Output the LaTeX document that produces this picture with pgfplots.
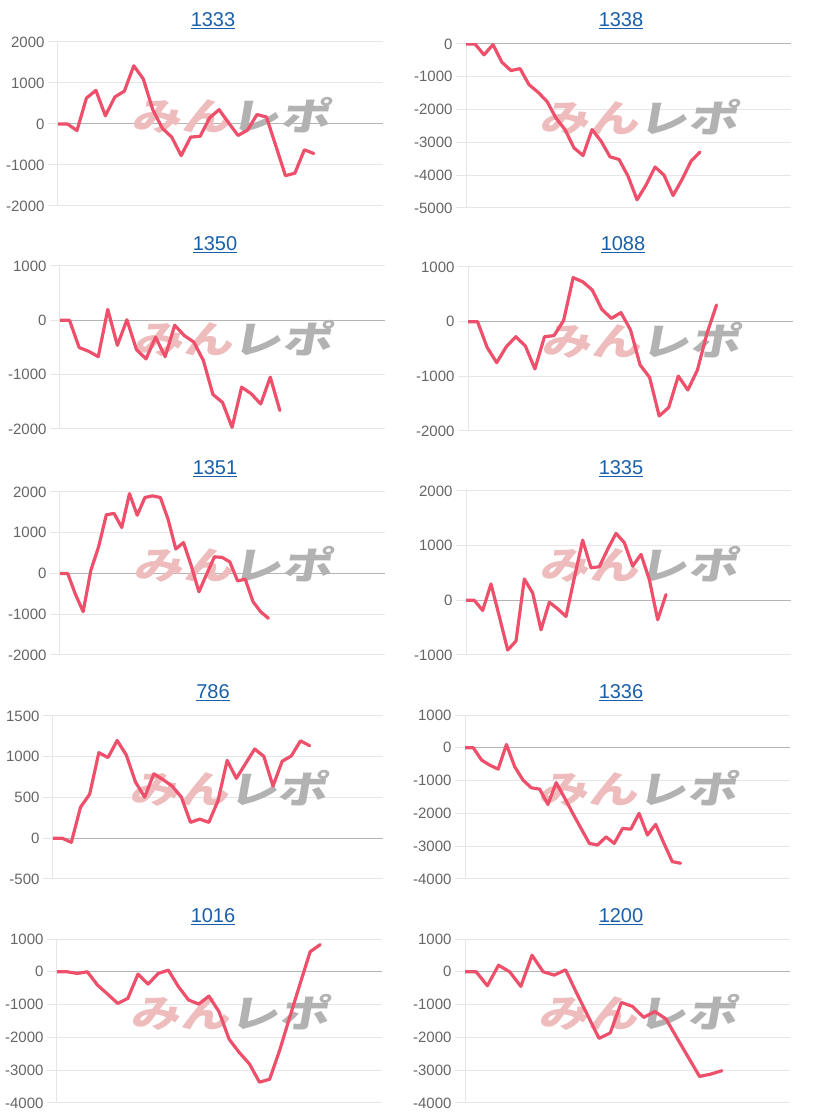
\documentclass[border=0pt]{standalone}
\usepackage{fontspec}
\setmainfont{Liberation Sans}
\newfontfamily\wmfont{Noto Sans CJK JP}
\usepackage{pgfplots}
\pgfplotsset{compat=1.18}
\definecolor{linec}{RGB}{238,80,108}
\definecolor{gridc}{RGB}{230,230,230}
\definecolor{zeroc}{RGB}{180,180,180}
\definecolor{tickc}{RGB}{102,102,102}
\definecolor{titlec}{RGB}{26,95,170}
\definecolor{wmpink}{RGB}{238,188,188}
\definecolor{wmgray}{RGB}{178,178,178}
\pgfplotsset{
  panel/.style={
    anchor=south west, scale only axis,
    axis x line=none, axis y line*=left,
    y axis line style={-, draw=gridc, line width=1pt},
    xmin=0, xtick=\empty,
    ymajorgrids, grid style={draw=gridc, line width=1pt},
    tick align=outside, major tick length=10pt,
    ytick style={draw=gridc, line width=1pt},
    yticklabel style={font=\fontsize{15}{15}\selectfont, text=tickc},
    /pgf/number format/assume math mode=true,
    /pgf/number format/1000 sep={},
    extra y ticks={0}, extra y tick labels={},
    extra y tick style={grid style={draw=zeroc, line width=1pt}},
  },
  serie/.style={draw=linec, line width=3.2pt, line join=round, line cap=round, mark=none},
}
\newcommand\wm{\node[anchor=center, inner sep=0pt, xslant=0.18, xscale=1.3, transform shape] at (rel axis cs:0.54,0.555) {\wmfont\bfseries\fontsize{38}{38}\selectfont\color{wmpink}みん\color{wmgray}レポ};}
\newcommand\ttl[3]{\node[anchor=base, text=titlec, font=\fontsize{20}{20}\selectfont, inner sep=0pt] at (#1,#2) {\underline{#3}};}
\begin{document}
\begin{tikzpicture}[x=1pt,y=1pt]
\path[use as bounding box, fill=white] (0,0) rectangle (816,1120);
% titles
\ttl{213}{1093}{1333}
\ttl{621}{1093}{1338}
\ttl{215}{869}{1350}
\ttl{623}{869}{1088}
\ttl{215}{645}{1351}
\ttl{621}{645}{1335}
\ttl{213}{421}{786}
\ttl{621}{421}{1336}
\ttl{213}{197}{1016}
\ttl{621}{197}{1200}

% 1333
\begin{axis}[panel, at={(58pt,914pt)}, width=325pt, height=164pt, xmax=34.3, ymin=-2000, ymax=2000, ytick={-2000,-1000,0,1000,2000}]
\wm
\addplot[serie] coordinates {(0,0) (1,0) (2,-160) (3,630) (4,820) (5,200) (6,660) (7,800) (8,1420) (9,1100) (10,350) (11,-100) (12,-320) (13,-770) (14,-320) (15,-300) (16,150) (17,350) (18,30) (19,-280) (20,-150) (21,230) (22,170) (23,-540) (24,-1260) (25,-1200) (26,-630) (27,-720)};
\end{axis}

% 1338
\begin{axis}[panel, at={(466pt,912pt)}, width=325pt, height=164pt, xmax=36.1, ymin=-5000, ymax=0, ytick={-5000,-4000,-3000,-2000,-1000,0}]
\wm
\addplot[serie] coordinates {(0,0) (1,0) (2,-330) (3,-20) (4,-560) (5,-810) (6,-750) (7,-1240) (8,-1470) (9,-1750) (10,-2260) (11,-2610) (12,-3170) (13,-3400) (14,-2610) (15,-2960) (16,-3440) (17,-3520) (18,-4030) (19,-4750) (20,-4300) (21,-3750) (22,-4000) (23,-4620) (24,-4130) (25,-3570) (26,-3290)};
\end{axis}

% 1350
\begin{axis}[panel, at={(60pt,691pt)}, width=325pt, height=163pt, xmax=34.0, ymin=-2000, ymax=1000, ytick={-2000,-1000,0,1000}]
\wm
\addplot[serie] coordinates {(0,0) (1,0) (2,-500) (3,-570) (4,-670) (5,200) (6,-460) (7,10) (8,-540) (9,-710) (10,-310) (11,-670) (12,-90) (13,-280) (14,-400) (15,-740) (16,-1365) (17,-1510) (18,-1970) (19,-1230) (20,-1350) (21,-1540) (22,-1045) (23,-1660)};
\end{axis}

% 1088
\begin{axis}[panel, at={(468pt,689pt)}, width=325pt, height=164pt, xmax=34.0, ymin=-2000, ymax=1000, ytick={-2000,-1000,0,1000}]
\wm
\addplot[serie] coordinates {(0,0) (1,0) (2,-470) (3,-750) (4,-460) (5,-275) (6,-445) (7,-865) (8,-275) (9,-255) (10,20) (11,805) (12,730) (13,580) (14,225) (15,60) (16,165) (17,-150) (18,-790) (19,-1020) (20,-1725) (21,-1570) (22,-995) (23,-1250) (24,-885) (25,-215) (26,305)};
\end{axis}

% 1351
\begin{axis}[panel, at={(60pt,465pt)}, width=325pt, height=163pt, xmax=42.1, ymin=-2000, ymax=2000, ytick={-2000,-1000,0,1000,2000}]
\wm
\addplot[serie] coordinates {(0,0) (1,0) (2,-510) (3,-935) (4,80) (5,655) (6,1440) (7,1475) (8,1130) (9,1960) (10,1430) (11,1865) (12,1905) (13,1865) (14,1330) (15,600) (16,760) (17,190) (18,-450) (19,-15) (20,410) (21,395) (22,285) (23,-180) (24,-140) (25,-690) (26,-940) (27,-1100)};
\end{axis}

% 1335
\begin{axis}[panel, at={(466pt,465pt)}, width=325pt, height=164pt, xmax=39, ymin=-1000, ymax=2000, ytick={-1000,0,1000,2000}]
\wm
\addplot[serie] coordinates {(0,0) (1,0) (2,-185) (3,300) (4,-295) (5,-910) (6,-745) (7,390) (8,135) (9,-540) (10,-35) (11,-155) (12,-295) (13,410) (14,1100) (15,595) (16,615) (17,935) (18,1225) (19,1055) (20,625) (21,840) (22,380) (23,-355) (24,105)};
\end{axis}

% 786
\begin{axis}[panel, at={(53pt,241pt)}, width=330pt, height=163pt, xmax=36, ymin=-500, ymax=1500, ytick={-500,0,500,1000,1500}]
\wm
\addplot[serie] coordinates {(0,0) (1,0) (2,-50) (3,380) (4,540) (5,1050) (6,990) (7,1200) (8,1020) (9,690) (10,505) (11,790) (12,720) (13,640) (14,505) (15,195) (16,235) (17,195) (18,460) (19,955) (20,735) (21,915) (22,1095) (23,1005) (24,640) (25,945) (26,1010) (27,1195) (28,1135)};
\end{axis}

% 1336
\begin{axis}[panel, at={(465pt,241pt)}, width=325pt, height=164pt, xmax=39.2, ymin=-4000, ymax=1000, ytick={-4000,-3000,-2000,-1000,0,1000}]
\wm
\addplot[serie] coordinates {(0,0) (1,0) (2,-375) (3,-530) (4,-650) (5,100) (6,-580) (7,-985) (8,-1220) (9,-1260) (10,-1725) (11,-1065) (12,-1520) (13,-2000) (14,-2460) (15,-2915) (16,-2965) (17,-2715) (18,-2915) (19,-2460) (20,-2480) (21,-2000) (22,-2660) (23,-2335) (24,-2915) (25,-3470) (26,-3520)};
\end{axis}

% 1016
\begin{axis}[panel, at={(57pt,17pt)}, width=325pt, height=164pt, xmax=32.1, ymin=-4000, ymax=1000, ytick={-4000,-3000,-2000,-1000,0,1000}]
\wm
\addplot[serie] coordinates {(0,0) (1,0) (2,-50) (3,0) (4,-405) (5,-680) (6,-965) (7,-810) (8,-70) (9,-375) (10,-50) (11,50) (12,-455) (13,-860) (14,-985) (15,-740) (16,-1215) (17,-2055) (18,-2460) (19,-2805) (20,-3365) (21,-3275) (22,-2385) (23,-1370) (24,-375) (25,610) (26,830)};
\end{axis}

% 1200
\begin{axis}[panel, at={(465pt,17pt)}, width=325pt, height=164pt, xmax=29.1, ymin=-4000, ymax=1000, ytick={-4000,-3000,-2000,-1000,0,1000}]
\wm
\addplot[serie] coordinates {(0,0) (1,0) (2,-425) (3,200) (4,0) (5,-445) (6,505) (7,0) (8,-100) (9,60) (10,-650) (11,-1340) (12,-2030) (13,-1865) (14,-935) (15,-1055) (16,-1390) (17,-1210) (18,-1440) (19,-2030) (20,-2610) (21,-3190) (22,-3120) (23,-3015)};
\end{axis}
\end{tikzpicture}
\end{document}
